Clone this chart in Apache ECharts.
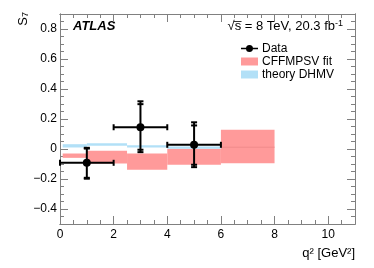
<!DOCTYPE html>
<html><head><meta charset="utf-8">
<script src="https://cdn.jsdelivr.net/npm/echarts@6/dist/echarts.min.js"></script>
<style>html,body{margin:0;padding:0;background:#fff}#c{width:374px;height:268px}</style>
</head><body><div id="c"></div><script>
// ---- tick labels ----
const xTicks = [0, 2, 4, 6, 8, 10];
const yTicks = [-0.4, -0.2, 0, 0.2, 0.4, 0.6, 0.8];

// ---- Data (ATLAS measurement) ----
const dataX      = [1, 3, 5];
const dataXLo    = [0, 2, 4];
const dataXHi    = [2, 4, 6];
const dataY      = [-0.092, 0.145, 0.028];
const dataStatUp = [0.095, 0.154, 0.129];
const dataStatDn = [0.100, 0.150, 0.133];
const dataTotUp  = [0.100, 0.173, 0.150];
const dataTotDn  = [0.106, 0.166, 0.149];

// ---- CFFMPSV fit bands ----
const fitLo  = [0.1, 1, 2.5, 4, 6];
const fitHi  = [1, 2.5, 4, 6, 8];
const fitTop = [-0.030, -0.012, -0.030, 0.001, 0.128];
const fitBot = [-0.059, -0.097, -0.139, -0.105, -0.095];
const fitCen = [null, null, null, null, 0.012];

// ---- theory DHMV bands ----
const thLo  = [0.1, 1, 2.5, 4];
const thHi  = [1, 2.5, 4, 6];
const thTop = [0.032, 0.039, 0.025, 0.017];
const thBot = [0.010, 0.021, 0.010, 0.001];

const FONT = 'Liberation Sans';
const AXIS_COLOR = '#808080';
const PINK = '#ff9a9a';
const BLUE = '#b2e0f7';

const chart = echarts.init(document.getElementById('c'), null, {renderer: 'canvas'});

function boxRender(color, lineColor) {
  return function (params, api) {
    const p1 = api.coord([api.value(0), api.value(2)]);
    const p2 = api.coord([api.value(1), api.value(3)]);
    const children = [{
      type: 'rect',
      shape: {x: p1[0], y: p1[1], width: p2[0] - p1[0], height: p2[1] - p1[1]},
      style: {fill: color}
    }];
    const c = api.value(4);
    if (lineColor && c !== null && !isNaN(c)) {
      const a = api.coord([api.value(0), c]);
      const b = api.coord([api.value(1), c]);
      children.push({type: 'line', shape: {x1: a[0], y1: a[1], x2: b[0], y2: b[1]},
        style: {stroke: lineColor, lineWidth: 1}});
    }
    return {type: 'group', children: children};
  };
}

function dataRender(params, api) {
  const x = api.value(0), xl = api.value(1), xh = api.value(2), y = api.value(3);
  const su = api.value(4), sd = api.value(5), tu = api.value(6), td = api.value(7);
  const c = api.coord([x, y]);
  const pl = api.coord([xl, y]), ph = api.coord([xh, y]);
  const pTU = api.coord([x, y + tu]), pTD = api.coord([x, y - td]);
  const pSU = api.coord([x, y + su]), pSD = api.coord([x, y - sd]);
  const st = {stroke: '#000', lineWidth: 2};
  const cap = 3;
  const ch = [];
  ch.push({type: 'line', shape: {x1: pl[0], y1: c[1], x2: ph[0], y2: c[1]}, style: st});
  ch.push({type: 'line', shape: {x1: pl[0], y1: c[1] - cap, x2: pl[0], y2: c[1] + cap}, style: st});
  ch.push({type: 'line', shape: {x1: ph[0], y1: c[1] - cap, x2: ph[0], y2: c[1] + cap}, style: st});
  ch.push({type: 'line', shape: {x1: c[0], y1: pTU[1], x2: c[0], y2: pTD[1]}, style: st});
  [pTU, pTD, pSU, pSD].forEach(function (p) {
    ch.push({type: 'line', shape: {x1: c[0] - cap, y1: p[1], x2: c[0] + cap, y2: p[1]}, style: st});
  });
  ch.push({type: 'circle', shape: {cx: c[0], cy: c[1], r: 4}, style: {fill: '#000'}});
  return {type: 'group', children: ch};
}

const fitData = fitLo.map((v, i) => [v, fitHi[i], fitTop[i], fitBot[i], fitCen[i] === null ? NaN : fitCen[i]]);
const thData = thLo.map((v, i) => [v, thHi[i], thTop[i], thBot[i], NaN]);
const dData = dataX.map((v, i) => [v, dataXLo[i], dataXHi[i], dataY[i], dataStatUp[i], dataStatDn[i], dataTotUp[i], dataTotDn[i]]);

const baseX = {
  type: 'value', min: 0, max: 11, gridIndex: 0,
  axisLine: {show: true, onZero: false, lineStyle: {color: AXIS_COLOR, width: 1}},
  splitLine: {show: false}
};
const baseY = {
  type: 'value', min: -0.5, max: 0.9, gridIndex: 0,
  axisLine: {show: true, onZero: false, lineStyle: {color: AXIS_COLOR, width: 1}},
  splitLine: {show: false}
};
const fmtY = v => (Math.abs(v) < 1e-9 ? '0' : (v < 0 ? '\u2212' + Math.abs(v).toFixed(1) : v.toFixed(1)));

const option = {
  animation: false,
  backgroundColor: '#fff',
  grid: {left: 60, right: 19, top: 14, bottom: 44, containLabel: false},
  xAxis: [
    Object.assign({}, baseX, {
      position: 'bottom',
      axisTick: {inside: true, length: 8, lineStyle: {color: AXIS_COLOR}, customValues: xTicks},
      axisLabel: {customValues: xTicks, color: '#000', fontFamily: FONT, fontSize: 12, margin: 5},
      name: 'q\u00b2 [GeV\u00b2]', nameLocation: 'end', nameGap: 0,
      nameTextStyle: {fontFamily: FONT, fontSize: 13, color: '#000', align: 'right', verticalAlign: 'top', padding: [23, 0, 0, 0]}
    }),
    Object.assign({}, baseX, {
      position: 'bottom', interval: 0.5,
      axisTick: {inside: true, length: 4, lineStyle: {color: AXIS_COLOR}},
      axisLabel: {show: false}
    }),
    Object.assign({}, baseX, {
      position: 'top',
      axisTick: {inside: true, length: 8, lineStyle: {color: AXIS_COLOR}, customValues: xTicks},
      axisLabel: {show: false}
    }),
    Object.assign({}, baseX, {
      position: 'top', interval: 0.5,
      axisTick: {inside: true, length: 4, lineStyle: {color: AXIS_COLOR}},
      axisLabel: {show: false}
    })
  ],
  yAxis: [
    Object.assign({}, baseY, {
      position: 'left',
      axisTick: {inside: true, length: 8, lineStyle: {color: AXIS_COLOR}, customValues: yTicks},
      axisLabel: {customValues: yTicks, formatter: fmtY, color: '#000', fontFamily: FONT, fontSize: 12, margin: 3}
    }),
    Object.assign({}, baseY, {
      position: 'left', interval: 0.05,
      axisTick: {inside: true, length: 4, lineStyle: {color: AXIS_COLOR}},
      axisLabel: {show: false}
    }),
    Object.assign({}, baseY, {
      position: 'right',
      axisTick: {inside: true, length: 8, lineStyle: {color: AXIS_COLOR}, customValues: yTicks},
      axisLabel: {show: false}
    }),
    Object.assign({}, baseY, {
      position: 'right', interval: 0.05,
      axisTick: {inside: true, length: 4, lineStyle: {color: AXIS_COLOR}},
      axisLabel: {show: false}
    })
  ],
  legend: {
    orient: 'vertical', left: 236, top: 37, itemWidth: 17, itemHeight: 8, itemGap: 0,
    textStyle: {fontFamily: FONT, fontSize: 12, color: '#000', lineHeight: 13, padding: [0, 0, 0, -1]},
    data: [
      {name: 'Data', icon: 'path://M0,3.2 L17,3.2 L17,4.8 L0,4.8 Z M8.5,0.5 A3.5,3.5 0 1 1 8.49,0.5 Z'},
      {name: 'CFFMPSV fit', icon: 'rect'},
      {name: 'theory DHMV', icon: 'rect'}
    ]
  },
  graphic: [
    {type: 'text', left: 73, top: 20, style: {text: 'ATLAS', font: 'italic bold 13px "Liberation Sans"', fill: '#000'}},
    {type: 'text', right: 31, top: 19, style: {
      rich: {n: {font: '13px "Liberation Sans"', fill: '#000'}, sup: {font: '9px "Liberation Sans"', fill: '#000', verticalAlign: 'top', padding: [0, 0, 6, 0]}},
      text: '{n|\u221as\u0305 = 8 TeV, 20.3 fb}{sup|-1}'
    }},
    {type: 'text', x: 23, y: 12, rotation: Math.PI / 2, style: {
      rich: {n: {font: '13px "Liberation Sans"', fill: '#000'}, sub: {font: '9px "Liberation Sans"', fill: '#000', padding: [6, 0, 0, 0]}},
      text: '{n|S}{sub|7}', align: 'right', verticalAlign: 'middle'
    }}
  ],
  series: [
    {name: 'CFFMPSV fit', type: 'custom', xAxisIndex: 0, yAxisIndex: 0, data: fitData,
      encode: {x: [0, 1], y: [2, 3]}, itemStyle: {color: PINK}, renderItem: boxRender(PINK, '#f08a8a'), z: 2},
    {name: 'theory DHMV', type: 'custom', xAxisIndex: 0, yAxisIndex: 0, data: thData,
      encode: {x: [0, 1], y: [2, 3]}, itemStyle: {color: BLUE}, renderItem: boxRender(BLUE, null), z: 3},
    {name: 'Data', type: 'custom', xAxisIndex: 0, yAxisIndex: 0, data: dData,
      encode: {x: [0, 1, 2], y: [3]}, itemStyle: {color: '#000'}, renderItem: dataRender, z: 5}
  ]
};
chart.setOption(option);
</script></body></html>
